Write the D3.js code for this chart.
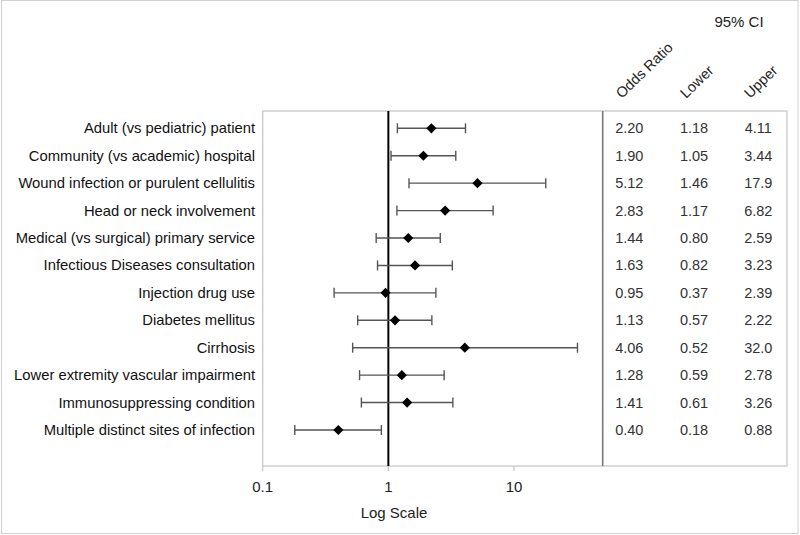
<html>
<head>
<script src="https://d3js.org/d3.v7.min.js" charset="utf-8"></script>
<style>
body { margin: 0; font-family: "Liberation Sans", Arial, sans-serif; background: white; }
</style>
</head>
<body>
<script>
  var width = 800;
  var height = 535;

  // data
  var factors = [
    "Adult (vs pediatric) patient",
    "Community (vs academic) hospital",
    "Wound infection or purulent cellulitis",
    "Head or neck involvement",
    "Medical (vs surgical) primary service",
    "Infectious Diseases consultation",
    "Injection drug use",
    "Diabetes mellitus",
    "Cirrhosis",
    "Lower extremity vascular impairment",
    "Immunosuppressing condition",
    "Multiple distinct sites of infection"
  ];
  var oddsRatio = [2.20, 1.90, 5.12, 2.83, 1.44, 1.63, 0.95, 1.13, 4.06, 1.28, 1.41, 0.40];
  var lower = [1.18, 1.05, 1.46, 1.17, 0.80, 0.82, 0.37, 0.57, 0.52, 0.59, 0.61, 0.18];
  var upper = [4.11, 3.44, 17.9, 6.82, 2.59, 3.23, 2.39, 2.22, 32.0, 2.78, 3.26, 0.88];
  var xTicks = [0.1, 1, 10];
  var columns = ["Odds Ratio", "Lower", "Upper"];

  var fmt = function(v) { return v >= 10 ? d3.format(".1f")(v) : d3.format(".2f")(v); };

  var svg = d3.select("body").append("svg")
    .attr("width", width)
    .attr("height", height);

  // outer frame
  svg.append("rect")
    .attr("x", 1.5).attr("y", 0.5)
    .attr("width", 796.5).attr("height", 533)
    .attr("fill", "none").attr("stroke", "#d0d0d0");

  var plotLeft = 262.7, plotRight = 602.7, plotTop = 111, plotBottom = 466;

  var x = d3.scaleLog().domain([0.1, 50.8]).range([plotLeft, plotRight]);
  var y = d3.scaleLinear().domain([0, 11]).range([128.3, 430]);

  // table box
  svg.append("rect")
    .attr("x", plotLeft).attr("y", plotTop)
    .attr("width", 787 - plotLeft).attr("height", plotBottom - plotTop)
    .attr("fill", "none").attr("stroke", "#c4c4c4").attr("stroke-width", 1.2);

  // separator between plot and table
  svg.append("line")
    .attr("x1", plotRight).attr("x2", plotRight)
    .attr("y1", plotTop).attr("y2", plotBottom)
    .attr("stroke", "#7a7a7a").attr("stroke-width", 1.6);

  // x axis ticks
  svg.append("g").selectAll("line")
    .data(xTicks).enter().append("line")
    .attr("x1", d => x(d)).attr("x2", d => x(d))
    .attr("y1", plotBottom).attr("y2", plotBottom + 5)
    .attr("stroke", "#c4c4c4").attr("stroke-width", 1.2);

  svg.append("g").selectAll("text")
    .data(xTicks).enter().append("text")
    .attr("x", d => x(d)).attr("y", 492)
    .attr("text-anchor", "middle")
    .attr("font-size", 15).attr("fill", "#222")
    .text(d => d);

  svg.append("text")
    .attr("x", 394).attr("y", 518)
    .attr("text-anchor", "middle")
    .attr("font-size", 15).attr("fill", "#222")
    .text("Log Scale");

  // reference line at OR = 1
  svg.append("line")
    .attr("x1", x(1)).attr("x2", x(1))
    .attr("y1", plotTop).attr("y2", plotBottom)
    .attr("stroke", "#000").attr("stroke-width", 2);

  var rows = svg.append("g").selectAll("g")
    .data(factors).enter().append("g");

  // labels
  rows.append("text")
    .attr("x", 255).attr("y", (d, i) => y(i) + 5)
    .attr("text-anchor", "end")
    .attr("font-size", 14.8).attr("fill", "#111")
    .text(d => d);

  // whiskers
  rows.append("line")
    .attr("x1", (d, i) => x(lower[i])).attr("x2", (d, i) => x(upper[i]))
    .attr("y1", (d, i) => y(i)).attr("y2", (d, i) => y(i))
    .attr("stroke", "#555").attr("stroke-width", 1.4);
  rows.append("line")
    .attr("x1", (d, i) => x(lower[i])).attr("x2", (d, i) => x(lower[i]))
    .attr("y1", (d, i) => y(i) - 5).attr("y2", (d, i) => y(i) + 5)
    .attr("stroke", "#555").attr("stroke-width", 1.4);
  rows.append("line")
    .attr("x1", (d, i) => x(upper[i])).attr("x2", (d, i) => x(upper[i]))
    .attr("y1", (d, i) => y(i) - 5).attr("y2", (d, i) => y(i) + 5)
    .attr("stroke", "#555").attr("stroke-width", 1.4);

  // diamonds
  rows.append("path")
    .attr("d", d3.symbol().type(d3.symbolSquare).size(52))
    .attr("transform", (d, i) => "translate(" + x(oddsRatio[i]) + "," + y(i) + ") rotate(45)")
    .attr("fill", "#000");

  // table values
  var colX = [629.3, 694, 758.3];
  var tableData = [oddsRatio, lower, upper];
  tableData.forEach(function(arr, c) {
    svg.append("g").selectAll("text")
      .data(arr).enter().append("text")
      .attr("x", colX[c]).attr("y", (d, i) => y(i) + 5)
      .attr("text-anchor", "middle")
      .attr("font-size", 14.5).attr("fill", "#333")
      .text(d => fmt(d));
  });

  // rotated column headers
  var headX = [621.7, 686, 750];
  svg.append("g").selectAll("text")
    .data(columns).enter().append("text")
    .attr("transform", (d, i) => "translate(" + headX[i] + ",99) rotate(-44)")
    .attr("font-size", 14.5).attr("fill", "#222")
    .text(d => d);

  svg.append("text")
    .attr("x", 739).attr("y", 27)
    .attr("text-anchor", "middle")
    .attr("font-size", 15).attr("fill", "#222")
    .text("95% CI");
</script>
</body>
</html>
